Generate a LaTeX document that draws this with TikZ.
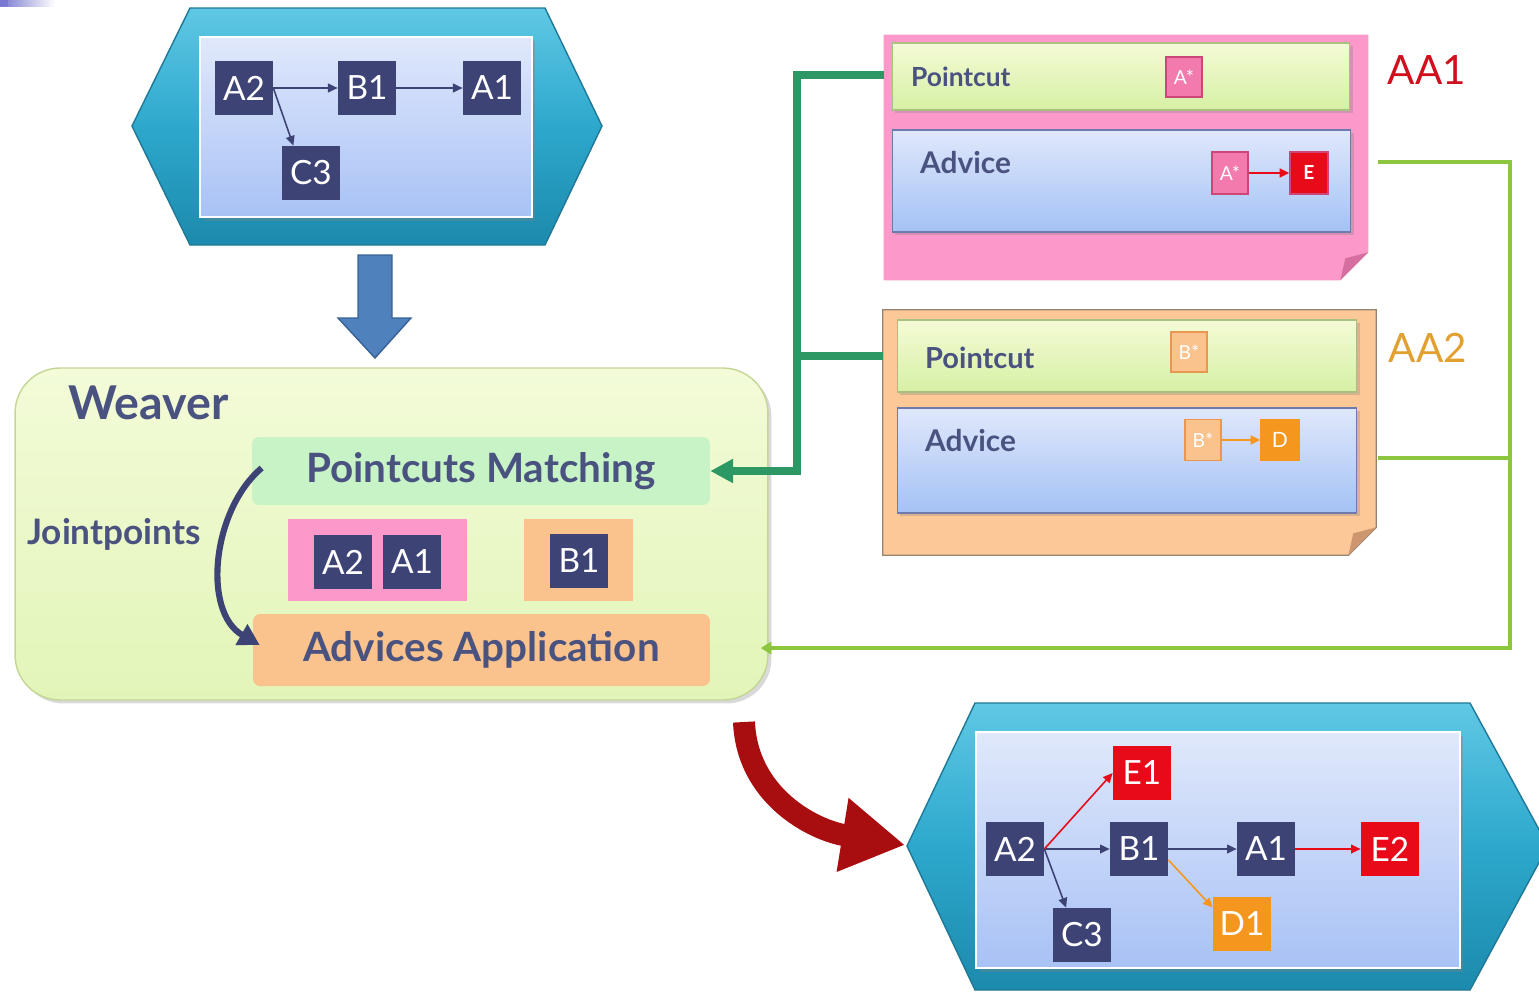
\documentclass[tikz,border=0pt]{standalone}
\usepackage{fontspec}
\setmainfont{Lato}
\usetikzlibrary{arrows.meta,shadows,calc}

\definecolor{hexT}{RGB}{95,200,228}
\definecolor{hexM}{RGB}{45,168,205}
\definecolor{hexB}{RGB}{28,138,172}
\definecolor{hexD}{RGB}{30,120,150}
\definecolor{canT}{RGB}{224,232,251}
\definecolor{canB}{RGB}{168,194,245}
\definecolor{navy}{RGB}{62,67,117}
\definecolor{ink}{RGB}{74,82,128}
\definecolor{redE}{RGB}{232,10,25}
\definecolor{orD}{RGB}{245,150,30}
\definecolor{pinkA}{RGB}{242,122,172}
\definecolor{pinkAD}{RGB}{205,70,120}
\definecolor{pinkN}{RGB}{252,152,202}
\definecolor{pinkF}{RGB}{215,110,160}
\definecolor{peachN}{RGB}{252,200,152}
\definecolor{peachF}{RGB}{205,150,110}
\definecolor{peachB}{RGB}{250,194,140}
\definecolor{peachBD}{RGB}{232,150,80}
\definecolor{noteD}{RGB}{150,132,112}
\definecolor{grnT}{RGB}{244,251,214}
\definecolor{grnB}{RGB}{214,240,164}
\definecolor{grnD}{RGB}{170,192,128}
\definecolor{weavT}{RGB}{243,251,216}
\definecolor{weavB}{RGB}{226,245,184}
\definecolor{weavD}{RGB}{196,214,150}
\definecolor{pmG}{RGB}{200,243,198}
\definecolor{advT}{RGB}{224,231,251}
\definecolor{advB}{RGB}{164,194,245}
\definecolor{advD}{RGB}{112,122,172}
\definecolor{gline}{RGB}{46,152,100}
\definecolor{lime}{RGB}{140,198,63}
\definecolor{dred}{RGB}{168,14,16}
\definecolor{blueA}{RGB}{79,129,189}
\definecolor{blueD}{RGB}{56,98,150}
\definecolor{aaone}{RGB}{208,16,28}
\definecolor{aatwo}{RGB}{226,160,48}
\definecolor{slide}{RGB}{120,120,210}

\begin{document}
\begin{tikzpicture}[x=0.02cm,y=-0.02cm,
  hexfill/.style={top color=hexT, bottom color=hexB, middle color=hexM, draw=hexD, line width=0.8pt},
  canvas/.style={top color=canT, bottom color=canB, draw=white, line width=1.2pt,
    drop shadow={opacity=0.35, shadow xshift=2pt, shadow yshift=-2pt}},
  job/.style={fill=navy, text=white, minimum width=1.16cm, minimum height=1.08cm,
    inner sep=0pt, font=\fontsize{19}{19}\selectfont},
  hot/.style={job, fill=redE},
  warm/.style={job, fill=orD},
  flow/.style={draw=navy, line width=0.9pt, -{Triangle[length=5.5pt,width=5pt]}},
  redflow/.style={flow, draw=redE},
  orflow/.style={flow, draw=orD},
  tag/.style={minimum width=0.72cm, minimum height=0.8cm, inner sep=0pt,
    text=white, font=\fontsize{11}{11}\selectfont, line width=0.8pt},
  pcbar/.style={top color=grnT, bottom color=grnB, draw=grnD, line width=0.6pt,
    inner sep=0pt, drop shadow={opacity=0.3, shadow xshift=1.5pt, shadow yshift=-1.5pt}},
  advbox/.style={top color=advT, bottom color=advB, draw=advD, line width=0.6pt,
    inner sep=0pt, drop shadow={opacity=0.3, shadow xshift=1.5pt, shadow yshift=-1.5pt}},
  barlabel/.style={anchor=west, text=ink, font=\bfseries\fontsize{16}{16}\selectfont},
  stage/.style={inner sep=0pt, rounded corners=4pt, text=ink,
    font=\bfseries\fontsize{23}{23}\selectfont},
  gconn/.style={draw=gline, line width=4pt},
  lconn/.style={draw=lime, line width=2.3pt},
]
\useasboundingbox (0,0) rectangle (1539,994);
\clip (0,0) rectangle (1539,994);

% slide corner accent
\shade[left color=slide, right color=white] (0,0) rectangle (55,6);
\fill[slide] (0,0) rectangle (8,6);

% ---------- source program ----------
\path[hexfill] (132,126) -- (190,8) -- (545,8) -- (602,126) -- (545,245) -- (190,245) -- cycle;
\node[canvas, minimum width=6.64cm, minimum height=3.6cm, inner sep=0pt] (src) at (366,127) {};
\node[job] (sA2) at (244,88) {A2};
\node[job] (sB1) at (367,88) {B1};
\node[job] (sA1) at (492,88) {A1};
\node[job] (sC3) at (311,173) {C3};
\draw[flow] (sA2.east) -- (sB1.west);
\draw[flow] (sB1.east) -- (sA1.west);
\draw[flow] (sA2.east) -- ($(sC3.north west)!0.2!(sC3.north east)$);

% down arrow into the weaver
\path[fill=blueA, draw=blueD, line width=0.8pt]
  (358,255) -- (392,255) -- (392,318) -- (411,318) -- (375,358) -- (338,318) -- (358,318) -- cycle;

% ---------- weaver ----------
\node[top color=weavT, bottom color=weavB, draw=weavD, line width=0.8pt,
  rounded corners=0.9cm, minimum width=15.06cm, minimum height=6.64cm, inner sep=0pt,
  drop shadow={opacity=0.3, shadow xshift=2pt, shadow yshift=-2pt}] (weaver) at (391.5,534) {};
\node[anchor=west, text=ink, font=\bfseries\fontsize{26.5}{26.5}\selectfont] (wlabel) at (62,403) {Weaver};
\node[stage, fill=pmG, minimum width=9.16cm, minimum height=1.36cm] (pm) at (481,471) {Pointcuts Matching};
\node[stage, fill=peachB, minimum width=9.14cm, minimum height=1.44cm] (aa) at (481.5,650) {Advices Application};
\node[text=ink, font=\bfseries\fontsize{20}{20}\selectfont] (jp) at (114,534) {Jointpoints};
\node[fill=pinkN, minimum width=3.58cm, minimum height=1.66cm, inner sep=0pt] (grpA) at (377.5,560) {};
\node[fill=peachB, minimum width=2.18cm, minimum height=1.64cm, inner sep=0pt] (grpB) at (578.5,560) {};
\node[job] (wA2) at (343,562) {A2};
\node[job] (wA1) at (412,562) {A1};
\node[job] (wB1) at (579,561) {B1};
\draw[draw=navy, line width=3.5pt, -{Triangle[length=12pt,width=13pt]}]
  ($(pm.west)+(10,-3)$) .. controls (212,510) and (202,612) .. ($(aa.west)+(7,-5)$);

% ---------- aspect AA1 ----------
\node[inner sep=0pt, minimum width=9.68cm, minimum height=4.9cm] (aa1) at (1126,157.5) {};
\fill[pinkN] (aa1.north west) -- (aa1.north east) -- ($(aa1.south east)+(0,-28)$)
  -- ($(aa1.south east)+(-28,0)$) -- (aa1.south west) -- cycle;
\fill[pinkF] ($(aa1.south east)+(-28,0)$) -- ($(aa1.south east)+(-23,-22)$) -- ($(aa1.south east)+(0,-28)$) -- cycle;
\node[pcbar, minimum width=9.16cm, minimum height=1.34cm] (pc1) at (1121,76.5) {};
\node[barlabel, font=\bfseries\fontsize{15}{15}\selectfont] (pc1t) at (905,77) {Pointcut};
\node[tag, fill=pinkA, draw=pinkAD] (pc1s) at (1184,77) {A*};
\node[advbox, minimum width=9.18cm, minimum height=2.04cm] (adv1) at (1121.5,181) {};
\node[barlabel, font=\bfseries\fontsize{17}{17}\selectfont] (adv1t) at (914,163) {Advice};
\node[tag, fill=pinkA, draw=pinkAD, minimum height=0.84cm] (adv1s) at (1230,173) {A*};
\node[tag, fill=redE, draw=pinkAD, minimum width=0.76cm, minimum height=0.84cm, font=\bfseries\fontsize{11}{11}\selectfont] (adv1e) at (1309,173) {E};
\draw[redflow, line width=1.2pt] (adv1s.east) -- (adv1e.west);
\node[text=aaone, font=\fontsize{23}{23}\selectfont] (aa1t) at (1427,70) {AA1};

% ---------- aspect AA2 ----------
\node[inner sep=0pt, minimum width=9.86cm, minimum height=4.9cm] (aa2) at (1129.5,432.5) {};
\path[fill=peachN, draw=noteD, line width=0.7pt] (aa2.north west) -- (aa2.north east) -- ($(aa2.south east)+(0,-28)$)
  -- ($(aa2.south east)+(-28,0)$) -- (aa2.south west) -- cycle;
\fill[peachF] ($(aa2.south east)+(-28,0)$) -- ($(aa2.south east)+(-23,-22)$) -- ($(aa2.south east)+(0,-28)$) -- cycle;
\node[pcbar, minimum width=9.2cm, minimum height=1.44cm] (pc2) at (1127,356) {};
\node[barlabel, font=\bfseries\fontsize{16.5}{16.5}\selectfont] (pc2t) at (919,358) {Pointcut};
\node[tag, fill=peachB, draw=peachBD] (pc2s) at (1189,352) {B*};
\node[advbox, minimum width=9.2cm, minimum height=2.1cm] (adv2) at (1127,460.5) {};
\node[barlabel, font=\bfseries\fontsize{17}{17}\selectfont] (adv2t) at (919,441) {Advice};
\node[tag, fill=peachB, draw=peachBD, minimum height=0.82cm] (adv2s) at (1203,440) {B*};
\node[tag, fill=orD, draw=orD, minimum width=0.76cm, minimum height=0.82cm, font=\fontsize{12}{12}\selectfont] (adv2d) at (1280,440) {D};
\draw[orflow, line width=1.2pt] (adv2s.east) -- (adv2d.west);
\node[text=aatwo, font=\fontsize{23}{23}\selectfont] (aa2t) at (1428,348) {AA2};

% ---------- pointcuts feed the matcher ----------
\coordinate (gx) at (797,471);
\draw[gconn] (aa2.west |- pc2) -- (gx |- pc2);
\draw[gconn, -{Triangle[length=13pt,width=13pt]}] (aa1.west |- 0,75) -| (gx) -- (pm.east);

% ---------- advices feed the application ----------
\coordinate (l1) at (1378,162);
\coordinate (l2) at (1378,458);
\coordinate (lx) at (1510,648);
\draw[lconn] (l2) -- (lx |- l2);
\draw[lconn, shorten >=-4.5pt, -{Triangle[length=6pt,width=7pt]}] (l1) -| (lx) -- (weaver.east |- lx);

% ---------- woven result ----------
\draw[draw=dred, line width=12.5pt, -{Triangle[length=36pt,width=40pt]}]
  (744,722) .. controls (747,795) and (812,830) .. (905,845);

\path[hexfill] (907,846) -- (975,703) -- (1470,703) -- (1548,846) -- (1470,990) -- (975,990) -- cycle;
\node[canvas, minimum width=9.68cm, minimum height=4.72cm, inner sep=0pt] (res) at (1218,850) {};
\node[job] (rA2) at (1015,849) {A2};
\node[job] (rB1) at (1139,849) {B1};
\node[job] (rA1) at (1266,849) {A1};
\node[hot] (rE2) at (1390,849) {E2};
\node[hot] (rE1) at (1142,773) {E1};
\node[job] (rC3) at (1082,935) {C3};
\node[warm] (rD1) at (1242,924) {D1};
\draw[flow] (rA2.east) -- (rB1.west);
\draw[flow] (rB1.east) -- (rA1.west);
\draw[redflow] (rA1.east) -- (rE2.west);
\draw[redflow] (rA2.east) -- (rE1.west);
\draw[flow] (rA2.east) -- ($(rC3.north west)!0.23!(rC3.north east)$);
\draw[orflow] ($(rB1.east)!0.4!(rB1.south east)$) -- ($(rD1.north west)!0.2!(rD1.south west)$);
\end{tikzpicture}
\end{document}
